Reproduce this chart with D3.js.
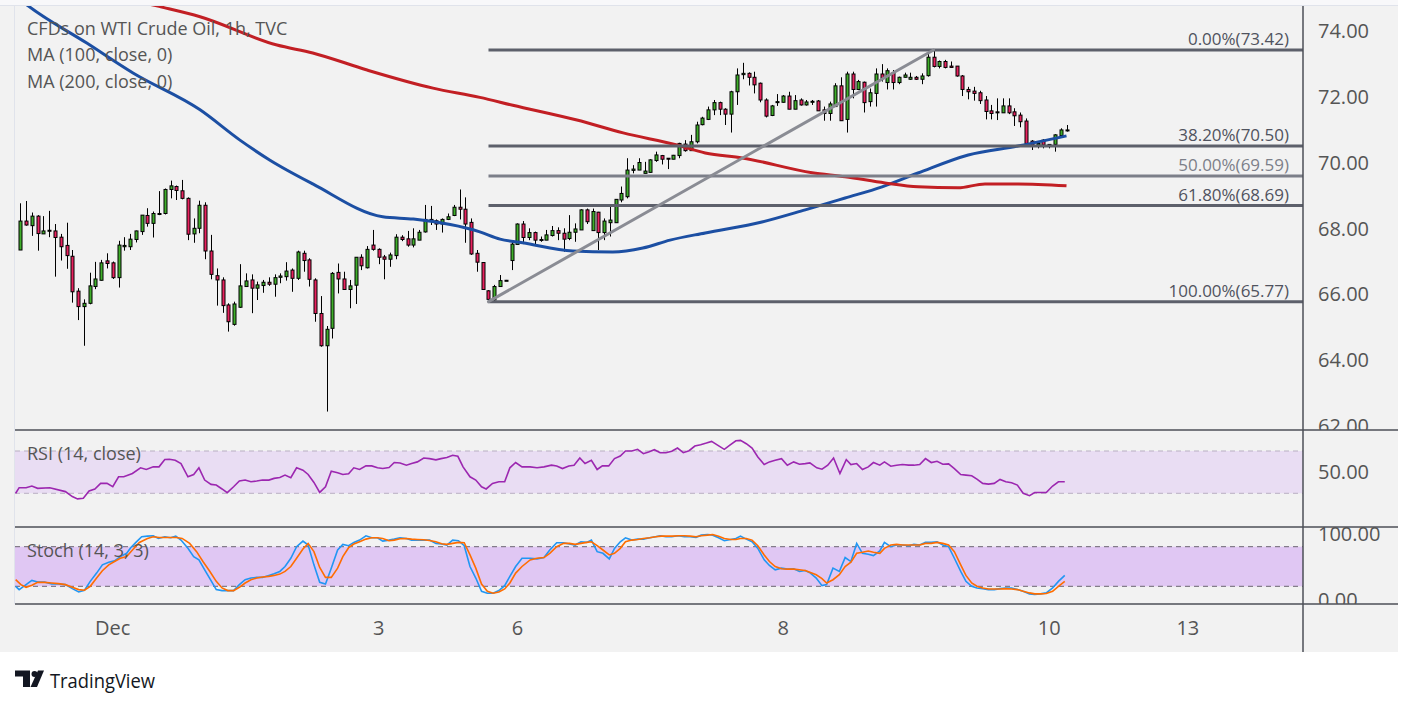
<!DOCTYPE html>
<html>
<head>
<meta charset="utf-8">
<script src="https://cdn.jsdelivr.net/npm/d3@7"></script>
<style>
  html, body { margin: 0; padding: 0; background: #fff; }
  svg { display: block; font-family: "Open Sans", sans-serif; }
</style>
</head>
<body>
<svg id="chart" width="1413" height="705"></svg>
<script>
// WTI 1h candles, index 0 = first visible bar. [open, high, low, close]
const CANDLES = [
  [67.34,68.76,67.34,68.22],[68.22,68.83,68.08,68.10],[68.08,68.48,67.77,68.37],[68.37,68.40,67.32,67.84],
  [67.83,68.37,67.83,67.92],[67.91,68.53,67.73,67.94],[67.92,68.13,66.53,67.72],[67.73,67.83,67.02,67.44],
  [67.48,68.17,66.77,67.17],[67.15,67.34,65.74,66.07],[66.09,66.18,65.21,65.62],[65.62,65.84,64.43,65.72],
  [65.72,66.65,65.69,66.25],[66.23,66.98,66.15,66.46],[66.42,67.04,66.41,66.95],[67.01,67.24,66.78,66.93],
  [66.95,66.99,66.46,66.50],[66.50,67.62,66.20,67.49],[67.44,67.73,67.32,67.48],[67.44,67.83,67.34,67.67],
  [67.66,67.93,67.57,67.92],[67.90,68.40,67.80,68.40],[68.39,68.61,68.05,68.15],[68.15,68.51,67.72,68.45],
  [68.42,69.13,68.40,68.45],[68.45,69.21,68.42,69.18],[69.18,69.45,68.91,69.29],[69.27,69.30,68.86,69.15],
  [69.14,69.47,68.88,68.91],[68.91,68.94,67.64,67.82],[67.83,68.30,67.56,68.00],[68.00,68.84,67.85,68.70],
  [68.70,68.79,67.06,67.31],[67.31,67.80,66.45,66.60],[66.56,66.78,65.65,66.43],[66.43,66.51,65.43,65.65],
  [65.67,65.72,64.86,65.16],[65.08,65.77,65.04,65.70],[65.60,66.91,65.58,66.25],[66.23,66.63,66.23,66.40],
  [66.43,66.60,65.42,66.18],[66.18,66.38,65.82,66.28],[66.26,66.43,66.04,66.36],[66.36,66.51,66.25,66.30],
  [66.30,66.60,65.92,66.50],[66.51,66.63,66.33,66.55],[66.53,66.97,66.41,66.70],[66.73,66.78,66.07,66.48],
  [66.48,67.32,66.43,67.28],[67.24,67.32,66.68,67.02],[67.04,67.09,66.23,66.45],[66.43,66.48,65.16,65.41],
  [65.41,65.94,64.40,64.43],[64.43,65.03,62.43,64.93],[64.96,66.67,64.65,66.63],[66.66,66.93,66.02,66.46],
  [66.46,66.68,66.13,66.14],[66.14,66.43,65.57,66.25],[66.27,67.12,65.70,67.12],[67.12,67.21,66.73,66.86],
  [66.80,67.46,66.78,67.36],[67.49,67.95,67.32,67.36],[67.36,67.39,66.91,67.12],[67.13,67.19,66.45,67.06],
  [67.06,67.26,66.83,67.19],[67.17,67.82,67.06,67.73],[67.73,67.79,67.61,67.66],[67.68,67.92,67.44,67.49],
  [67.49,68.00,67.42,67.68],[67.64,67.95,67.64,67.88],[67.89,68.71,67.87,68.27],[68.27,68.68,68.10,68.22],
  [68.23,68.27,67.95,68.13],[68.13,68.30,67.87,68.27],[68.27,68.45,68.25,68.35],[68.39,68.71,68.37,68.64],
  [68.64,69.18,68.27,68.58],[68.58,68.94,67.56,68.13],[68.18,68.30,67.19,67.22],[67.24,67.34,66.68,66.97],
  [66.96,66.96,66.13,66.14],[66.10,66.12,65.77,65.84],[65.82,66.28,65.78,66.23],[66.23,66.58,66.23,66.41],
  [66.41,66.43,66.40,66.42],[67.02,67.64,66.73,67.52],[67.51,68.15,67.51,68.13],[68.13,68.22,67.52,67.72],
  [67.72,68.00,67.64,67.87],[67.87,67.90,67.52,67.64],[67.64,67.75,67.59,67.66],[67.64,67.95,67.64,67.80],
  [67.78,68.07,67.75,67.93],[67.93,68.03,67.64,67.85],[67.85,68.00,67.29,67.67],[67.69,68.40,67.64,67.88],
  [67.88,68.15,67.59,67.98],[67.95,68.58,67.95,68.56],[68.56,68.60,68.13,68.20],[67.93,68.60,67.93,68.51],
  [68.49,68.50,67.34,67.87],[67.87,68.30,67.64,68.22],[68.17,68.66,67.75,68.25],[68.17,68.88,68.17,68.88],
  [68.86,69.27,68.79,69.06],[68.96,70.13,68.91,69.77],[69.76,69.92,69.67,69.80],[69.77,70.13,69.77,70.00],
  [69.67,70.02,69.67,69.74],[69.70,70.10,69.69,70.08],[70.06,70.33,70.02,70.23],[70.21,70.23,69.94,70.10],
  [70.13,70.13,69.80,70.11],[70.10,70.23,70.10,70.22],[70.21,70.60,70.13,70.58],[70.56,70.68,70.33,70.36],
  [70.36,70.84,70.35,70.63],[70.63,71.24,70.58,71.14],[71.15,71.39,71.13,71.35],[71.31,71.70,71.29,71.60],
  [71.60,71.90,71.44,71.82],[71.82,71.85,71.44,71.62],[71.62,71.65,71.14,71.47],[71.47,72.18,70.91,72.15],
  [72.15,72.86,71.75,72.66],[72.67,73.03,72.53,72.71],[72.71,72.74,72.34,72.59],[72.59,72.76,72.10,72.36],
  [72.41,72.43,71.83,71.90],[71.90,71.95,71.37,71.41],[71.43,71.75,71.41,71.72],[71.83,72.08,71.72,71.85],
  [71.83,72.05,71.82,72.02],[72.02,72.15,71.62,71.62],[71.62,72.05,71.62,71.88],[71.90,71.95,71.73,71.75],
  [71.75,71.90,71.73,71.84],[71.83,71.90,71.75,71.86],[71.87,71.90,71.57,71.57],[71.60,71.70,71.27,71.49],
  [71.49,71.85,71.27,71.78],[71.70,72.41,71.70,72.33],[72.33,72.59,71.27,71.27],[71.31,72.76,70.91,72.69],
  [72.69,72.76,71.95,72.22],[72.22,72.51,72.20,72.46],[72.44,72.46,71.52,71.82],[71.85,72.25,71.70,72.12],
  [72.10,72.86,71.70,72.69],[72.69,72.99,72.46,72.56],[72.43,72.86,72.22,72.79],[72.73,72.81,72.22,72.43],
  [72.43,72.61,72.38,72.59],[72.59,72.73,72.58,72.66],[72.53,72.73,72.51,72.59],[72.59,72.63,72.51,72.53],
  [72.53,72.71,72.38,72.63],[72.64,73.32,72.61,73.20],[73.20,73.42,72.89,72.92],[72.92,73.10,72.86,73.07],
  [73.07,73.12,72.86,72.89],[72.93,73.07,72.88,72.89],[72.93,72.93,72.61,72.63],[72.63,72.66,72.02,72.22],
  [72.22,72.30,71.92,72.15],[72.17,72.30,71.88,72.10],[72.12,72.18,71.78,71.88],[71.90,72.02,71.31,71.55],
  [71.57,71.75,71.31,71.49],[71.54,71.95,71.29,71.51],[71.51,71.95,71.51,71.72],[71.72,71.95,71.47,71.51],
  [71.54,71.65,71.11,71.42],[71.44,71.52,71.07,71.24],[71.26,71.34,70.56,70.58],[70.65,70.68,70.38,70.53],
  [70.53,70.60,70.43,70.58],[70.68,70.71,70.43,70.53],[70.55,70.56,70.43,70.54],[70.55,70.86,70.33,70.84],
  [70.82,71.04,70.79,70.99],[70.97,71.14,70.94,70.99]
];

// moving averages: [bar index, price]
const MA100 = [[0,74.95],[1.3,74.77],[11.5,73.63],[19.5,72.72],[31.1,71.60],[38,70.68],[43.2,70.07],
  [50.6,69.35],[62.7,68.35],[68,68.28],[79.5,67.89],[83,67.67],[86.9,67.56],[95.6,67.31],[102.5,67.28],
  [107.7,67.40],[112.4,67.64],[118.5,67.86],[128.3,68.19],[135.8,68.56],[142.7,68.92],[149.1,69.26],
  [155.3,69.68],[164,70.23],[172.6,70.50],[181,70.81]];
const MA200 = [[13,75.2],[23.6,74.76],[31.1,74.43],[44.4,73.57],[50.6,73.33],[60,72.81],[71.4,72.26],
  [79.5,71.98],[85.2,71.74],[96.3,71.29],[104.3,70.90],[113.6,70.53],[118.5,70.29],[124.9,70.14],
  [137,69.69],[142.7,69.57],[149.6,69.38],[155.3,69.26],[162.2,69.23],[166.9,69.35],[172.6,69.35],[181,69.29]];

// RSI(14) [bar index, value]
const RSI = [[-0.8,30.0],[-0.2,35.3],[1.0,35.3],[2.0,36.9],[3.0,34.7],[5.1,35.3],[7.8,31.6],[9.0,26.9],
  [9.9,24.7],[10.9,25.3],[11.9,32.2],[12.9,34.1],[13.9,39.4],[15.0,39.4],[16.0,36.2],[17.0,45.6],[17.9,45.6],
  [19.4,48.7],[20.8,54.1],[21.8,52.5],[23.0,55.0],[24.0,55.0],[25.0,61.9],[25.8,62.2],[26.8,61.2],[27.8,58.1],
  [29.0,45.6],[30.0,47.8],[30.9,54.1],[31.9,42.5],[33.0,38.4],[33.9,37.8],[34.9,34.1],[35.8,30.6],[36.9,36.2],
  [37.9,41.6],[38.9,42.5],[39.9,40.9],[40.9,41.6],[41.9,42.5],[43.0,42.5],[43.9,44.1],[44.9,45.0],[45.8,47.2],
  [46.8,44.7],[47.8,54.1],[48.9,51.9],[49.8,47.8],[50.8,40.3],[51.8,30.9],[52.8,36.2],[53.8,50.9],[54.9,49.4],
  [55.8,47.8],[56.8,48.4],[57.7,54.1],[58.7,52.5],[59.8,55.9],[60.8,55.9],[61.8,54.1],[62.7,53.4],[63.8,54.4],
  [64.7,59.1],[65.7,58.7],[66.8,56.6],[67.7,58.1],[68.7,59.7],[69.8,63.4],[70.8,62.8],[71.9,61.6],[72.8,62.8],
  [73.8,63.8],[74.8,66.0],[75.7,65.0],[76.6,55.0],[77.8,45.6],[78.8,42.5],[79.8,36.2],[80.6,34.1],[81.7,39.4],
  [82.8,40.9],[83.8,40.9],[84.7,54.1],[85.7,59.1],[86.8,55.0],[88.2,55.0],[89.4,54.1],[90.6,55.0],[91.9,56.6],
  [92.8,55.9],[93.8,53.4],[94.9,55.9],[95.8,56.6],[96.8,63.4],[97.7,58.1],[98.8,61.2],[99.8,52.5],[100.7,55.9],
  [101.8,55.9],[102.8,62.8],[103.8,65.3],[104.7,70.0],[105.8,70.0],[106.8,71.6],[107.8,67.5],[108.7,69.1],
  [109.7,71.2],[110.7,68.4],[111.7,68.4],[112.7,69.7],[113.7,72.8],[114.7,68.4],[115.7,70.3],[116.7,74.7],
  [117.7,75.9],[118.7,77.5],[119.6,79.1],[120.7,75.3],[121.8,71.6],[122.7,75.3],[123.8,79.7],[124.6,80.0],
  [125.6,76.9],[126.6,72.8],[127.6,64.4],[128.7,57.2],[129.6,59.7],[130.6,61.2],[131.7,62.8],[132.7,56.6],
  [133.8,59.7],[134.8,57.5],[135.8,58.1],[136.6,58.7],[137.8,54.1],[138.7,52.8],[139.7,56.6],[140.7,63.4],
  [141.8,48.7],[142.9,61.9],[143.7,57.2],[144.7,58.1],[145.7,52.5],[146.7,55.0],[147.6,59.1],[148.7,56.6],
  [149.5,59.7],[150.6,55.6],[151.6,56.6],[152.6,57.2],[153.7,56.6],[154.6,56.6],[155.6,57.2],[156.6,62.8],
  [157.6,59.1],[158.6,60.3],[159.6,57.5],[160.6,57.8],[161.6,53.4],[162.7,47.8],[163.6,47.2],[164.6,46.6],
  [165.5,43.4],[166.5,39.4],[167.5,38.7],[168.5,39.4],[169.5,43.1],[170.5,40.9],[171.5,40.0],[172.5,37.8],
  [173.5,30.0],[174.6,27.8],[175.5,30.7],[176.5,30.7],[177.5,30.7],[178.6,36.9],[179.6,40.9],[180.7,40.9]];

// Stoch(14,3,3) %K and %D [bar index, value]
const STOCH_K = [[-0.8,20],[-0.2,15],[1.0,22.5],[2.0,29],[3.0,26.5],[4.2,26.5],[5.4,23.5],[6.6,23.5],[7.8,22.5],
  [9.0,16.5],[10.1,11.5],[11.1,14],[12.1,27.5],[13.2,40],[14.2,52.5],[15.3,56.5],[16.3,58.5],[17.3,65],[18.4,70],
  [19.1,78.5],[20.0,86.5],[21.0,95],[22.0,96],[23.0,96.5],[23.9,92.5],[25.0,95],[26.0,93.5],[26.9,96],[27.8,90],
  [29.0,77.5],[30.0,65],[30.9,60],[31.9,45],[33.0,28.5],[33.9,15],[34.9,13.5],[35.8,13.5],[36.9,13.5],[37.9,22.5],
  [38.9,30],[39.9,32.5],[40.9,33.5],[41.9,33.5],[43.0,36.5],[43.9,39],[44.9,42.5],[45.8,50],[46.8,62.5],[47.8,80],
  [48.9,88.5],[49.8,82.5],[50.8,52.5],[51.8,26],[52.8,23.5],[53.8,47.5],[54.9,75],[55.8,83.5],[56.8,81.5],
  [57.7,86.5],[58.7,90],[59.8,96.5],[60.8,93.5],[61.8,93.5],[62.7,88.5],[63.8,90],[64.7,91.5],[65.7,93.5],
  [66.8,92.5],[67.7,90],[68.7,90],[69.8,90],[70.8,90],[71.9,85],[72.9,84],[73.8,82.5],[74.8,90],[75.8,89],
  [76.8,81.5],[77.8,50],[78.8,32.5],[79.8,12.5],[80.8,9.5],[81.8,9.5],[82.8,13.5],[83.8,21],[84.7,35],[85.7,50],
  [86.8,62.5],[88.2,62.5],[89.4,61.5],[90.6,63.5],[91.6,75],[92.8,86],[94.0,86],[95.0,84],[96.0,82.5],[97.0,87.5],
  [98.0,86.5],[98.8,90],[99.8,72.5],[100.8,70],[101.9,61.5],[102.8,77.5],[103.8,87.5],[104.7,93.5],[105.8,90],
  [106.8,91.5],[107.8,91.5],[108.9,93.5],[109.9,95],[110.7,96.5],[111.7,95],[112.7,95],[113.8,96.5],[114.9,95],
  [115.9,95],[116.9,94],[117.8,97.5],[118.9,98.5],[119.8,97.5],[120.8,93.5],[121.8,89],[122.9,91],[123.8,92.5],
  [124.6,96],[125.6,91.5],[126.6,87.5],[127.6,77.5],[128.7,60],[129.6,51.5],[130.6,45],[131.7,47.5],[132.7,46],
  [133.8,46.5],[134.8,42.5],[135.8,44],[136.7,40],[137.7,32.5],[138.7,21],[139.5,22.5],[140.6,47.5],[141.7,42.5],
  [142.7,63.5],[143.7,57.5],[144.7,85],[145.7,70],[146.7,68.5],[147.6,66.5],[148.7,73.5],[149.5,86.5],[150.6,80],
  [151.6,82.5],[152.6,82.5],[153.7,81.5],[154.6,83.5],[155.6,82.5],[156.6,86.5],[157.6,86.5],[158.6,87.5],
  [159.6,82.5],[160.6,80],[161.6,62.5],[162.7,42.5],[163.6,27.5],[164.6,20],[165.5,17.5],[166.5,16.5],[167.5,15],
  [168.5,15],[169.5,16.5],[170.5,17.5],[171.5,17.5],[172.5,15],[173.5,12.5],[174.6,8.5],[175.5,7.5],[176.5,8.5],
  [177.5,10],[178.6,17.5],[179.6,27.5],[180.7,36.5]];
const STOCH_D = [[-0.8,30],[0.1,22.5],[1.0,18.5],[2.0,21.5],[3.0,26],[4.2,26],[5.4,25],[6.6,24],[7.8,22.5],
  [9.0,18.5],[10.1,15],[11.1,14],[12.1,20],[13.2,32.5],[14.2,43.5],[15.3,52.5],[16.3,57.5],[17.3,62.5],[18.4,65],
  [19.4,75],[20.6,86.5],[22.0,92.5],[23.0,95],[24.0,94],[25.0,94],[26.0,94],[27.0,94],[28.0,92.5],[29.3,85],
  [30.5,72.5],[31.6,57.5],[32.8,42.5],[33.9,27.5],[34.9,17.5],[35.9,13.5],[36.9,13.5],[37.9,18.5],[38.9,25],
  [39.9,30],[40.9,32.5],[41.9,34],[43.0,35],[43.9,36.5],[44.9,38.5],[45.8,42.5],[46.8,50],[47.8,62.5],[48.9,76.5],
  [49.8,85],[50.8,72.5],[51.8,48.5],[52.8,33.5],[53.8,33.5],[54.9,47.5],[55.8,65],[56.8,78.5],[57.7,84],
  [58.7,87.5],[59.8,91.5],[60.8,93.5],[61.8,93.5],[62.7,92.5],[63.8,89],[64.7,90],[65.7,92],[66.8,92.5],
  [67.7,91.5],[68.7,91],[69.8,90.5],[70.8,89.5],[71.9,87.5],[72.9,84.5],[73.8,83.5],[74.8,85],[75.8,86.5],
  [76.8,86],[77.8,67.5],[78.8,47.5],[79.8,23.5],[80.8,12.5],[81.8,9.5],[82.8,11.5],[83.8,16],[84.7,25],[85.7,40],
  [86.8,50],[88.2,60],[89.4,62.5],[90.6,63.5],[91.6,70],[92.8,80],[94.0,85],[95.0,85],[96.0,83.5],[97.0,85],
  [98.0,86.5],[98.8,87.5],[99.8,81.5],[100.8,75],[101.9,67.5],[102.8,70],[103.8,77.5],[104.7,87.5],[105.8,90],
  [106.8,91],[107.8,92.5],[108.9,93.5],[109.9,95],[110.9,96],[111.9,96],[112.9,96],[113.9,96.5],[114.9,96.5],
  [115.9,96],[116.9,95],[117.8,96.5],[118.9,97.5],[119.8,98.5],[120.8,96],[121.8,92.5],[122.9,91],[123.8,91],
  [124.6,92.5],[125.6,92.5],[126.6,90],[127.6,81.5],[128.7,67.5],[129.6,57.5],[130.6,50],[131.7,46.5],[132.7,46],
  [133.8,46],[134.8,45],[135.8,44],[136.7,41],[137.7,37.5],[138.7,31.5],[139.5,25],[140.6,30],[141.7,37.5],
  [142.7,50],[143.7,56.5],[144.7,70],[145.7,71.5],[146.7,73.5],[147.6,71.5],[148.7,70],[149.5,77.5],[150.6,82.5],
  [151.6,83.5],[152.6,82.5],[153.7,82.5],[154.6,82.5],[155.6,82.5],[156.6,85],[157.6,85],[158.6,86.5],[159.6,85],
  [160.6,82.5],[161.6,72.5],[162.7,52.5],[163.6,36.5],[164.6,25],[165.5,20],[166.5,17.5],[167.5,16],[168.5,16],
  [169.5,16],[170.5,16.5],[171.5,16],[172.5,15],[173.5,12.5],[174.6,10],[175.5,8.5],[176.5,8.5],[177.5,9],
  [178.6,12.5],[179.6,20],[180.7,27.5]];

// Fibonacci retracement from the 65.77 low (bar 81) to the 73.42 high (bar 158)
const FIB_ANCHORS = [[81, 65.77], [158, 73.42]];
const FIB_RATIOS = ["0.00%", "38.20%", "50.00%", "61.80%", "100.00%"];
const FIB_PRICES = [73.42, 70.50, 69.59, 68.69, 65.77];

const PRICE_TICKS = [62, 64, 66, 68, 70, 72, 74];
const RSI_TICKS = [50];
const RSI_BAND = [30, 70];
const STOCH_TICKS = [0, 100];
const STOCH_BAND = [20, 80];
const TIME_TICKS = [[16, "Dec"], [62, "3"], [86, "6"], [132, "8"], [178, "10"], [202, "13"]];
const LEGEND = ["CFDs on WTI Crude Oil, 1h, TVC", "MA (100, close, 0)", "MA (200, close, 0)"];

// ---------- layout ----------
const L = 15, R = 1303, AXR = 1398;
const MAIN = [6, 430], RP = [430, 527], SP = [527, 604], TB = 652;
const TXT = "#555555", GRID = "#4d4f57";

const svg = d3.select("#chart");
const defs = svg.append("defs");
function clip(id, x, y, w, h) {
  defs.append("clipPath").attr("id", id).append("rect").attr("x", x).attr("y", y).attr("width", w).attr("height", h);
  return `url(#${id})`;
}
const cMain = clip("cMain", L, MAIN[0], R - L, MAIN[1] - MAIN[0]);
const cRsi = clip("cRsi", L, RP[0], R - L, RP[1] - RP[0]);
const cSto = clip("cSto", L, SP[0], R - L, SP[1] - SP[0]);
const cAxMain = clip("cAxMain", R, MAIN[0], AXR - R, MAIN[1] - MAIN[0]);
const cAxRsi = clip("cAxRsi", R, RP[0], AXR - R, RP[1] - RP[0]);
const cAxSto = clip("cAxSto", R, SP[0], AXR - R, SP[1] - SP[0]);

const x = d3.scaleLinear().domain([0, 181]).range([20.3, 1066.5]);
const y = d3.scaleLinear().domain([62, 74]).range([425.7, 30.9]);
const yR = d3.scaleLinear().domain([30, 70]).range([493.3, 451]);
const yS = d3.scaleLinear().domain([0, 100]).range([599.5, 533.5]);

// backgrounds
svg.append("rect").attr("x", 0).attr("y", 0).attr("width", AXR).attr("height", TB).attr("fill", "#f2f2f2");
svg.append("rect").attr("x", 0).attr("y", 0).attr("width", AXR).attr("height", MAIN[0]).attr("fill", "#f8f8fa");
svg.append("line").attr("x1", 0).attr("x2", AXR).attr("y1", MAIN[0] - 0.5).attr("y2", MAIN[0] - 0.5)
  .attr("stroke", "#e0e3eb");
svg.append("line").attr("x1", L - 0.5).attr("x2", L - 0.5).attr("y1", MAIN[0]).attr("y2", SP[1])
  .attr("stroke", "#e0e3eb");

// indicator bands
function band(scale, lv, fill, dash, cp) {
  const g = svg.append("g").attr("clip-path", cp);
  g.append("rect").attr("x", L).attr("width", R - L)
    .attr("y", scale(lv[1])).attr("height", scale(lv[0]) - scale(lv[1])).attr("fill", fill);
  lv.forEach(v => g.append("line").attr("x1", L).attr("x2", R).attr("y1", scale(v)).attr("y2", scale(v))
    .attr("stroke", dash).attr("stroke-dasharray", "5 4").attr("stroke-width", 1));
}
band(yR, RSI_BAND, "#e9ddf3", "#b9b0c2", cRsi);
band(yS, STOCH_BAND, "#e0c7f3", "#6a6470", cSto);

// candles
const gc = svg.append("g").attr("clip-path", cMain);
const bars = gc.selectAll("g.c").data(CANDLES).join("g").attr("class", "c");
bars.append("line")
  .attr("x1", (d, i) => Math.round(x(i)) + 0.5).attr("x2", (d, i) => Math.round(x(i)) + 0.5)
  .attr("y1", d => y(d[1])).attr("y2", d => y(d[2])).attr("stroke", "#000").attr("stroke-width", 1);
bars.append("rect")
  .attr("x", (d, i) => Math.round(x(i)) - 1)
  .attr("width", 3)
  .attr("y", d => y(Math.max(d[0], d[3])))
  .attr("height", d => Math.max(1, Math.abs(y(d[0]) - y(d[3]))))
  .attr("fill", d => d[3] >= d[0] ? "#3fae2a" : "#e8225f")
  .attr("stroke", "#000").attr("stroke-width", 1);

// moving averages
const maLine = d3.line().x(d => x(d[0])).y(d => y(d[1])).curve(d3.curveMonotoneX);
gc.append("path").datum(MA100).attr("d", maLine).attr("fill", "none")
  .attr("stroke", "#1c4fa3").attr("stroke-width", 3);
gc.append("path").datum(MA200).attr("d", maLine).attr("fill", "none")
  .attr("stroke", "#c21f24").attr("stroke-width", 3);

// fib retracement + trend line
const fibX0 = x(FIB_ANCHORS[0][0]);
FIB_PRICES.forEach((p, k) => {
  const col = FIB_RATIOS[k] === "50.00%" ? "#7c7f89" : "#5d606b";
  gc.append("line").attr("x1", fibX0).attr("x2", R).attr("y1", y(p)).attr("y2", y(p))
    .attr("stroke", col).attr("stroke-width", 3);
  gc.append("text").attr("x", 1289).attr("y", y(p) - 5).attr("text-anchor", "end")
    .attr("font-size", 17).attr("fill", FIB_RATIOS[k] === "50.00%" ? "#7c7f89" : "#50535e")
    .text(`${FIB_RATIOS[k]}(${p.toFixed(2)})`);
});
gc.append("line")
  .attr("x1", x(FIB_ANCHORS[0][0])).attr("y1", y(FIB_ANCHORS[0][1]))
  .attr("x2", x(FIB_ANCHORS[1][0])).attr("y2", y(FIB_ANCHORS[1][1]))
  .attr("stroke", "#8a8c94").attr("stroke-width", 3).attr("stroke-linecap", "round");

// RSI
const rsiLine = d3.line().x(d => x(d[0])).y(d => yR(d[1]));
svg.append("g").attr("clip-path", cRsi).append("path").datum(RSI).attr("d", rsiLine)
  .attr("fill", "none").attr("stroke", "#9c27b0").attr("stroke-width", 1.6);

// Stoch
const stoLine = d3.line().x(d => x(d[0])).y(d => yS(d[1]));
const gs = svg.append("g").attr("clip-path", cSto);
gs.append("path").datum(STOCH_K).attr("d", stoLine).attr("fill", "none")
  .attr("stroke", "#2196f3").attr("stroke-width", 1.6);
gs.append("path").datum(STOCH_D).attr("d", stoLine).attr("fill", "none")
  .attr("stroke", "#ff6d00").attr("stroke-width", 1.6);

// pane separators and price axis border
[MAIN[1], RP[1], SP[1]].forEach(v => svg.append("line").attr("x1", L).attr("x2", AXR)
  .attr("y1", v).attr("y2", v).attr("stroke", GRID).attr("stroke-width", 1.5));
svg.append("line").attr("x1", R).attr("x2", R).attr("y1", MAIN[0]).attr("y2", TB)
  .attr("stroke", GRID).attr("stroke-width", 1.5);

// axis labels
function axisLabels(ticks, scale, cp) {
  svg.append("g").attr("clip-path", cp).selectAll("text").data(ticks).join("text")
    .attr("x", 1318).attr("y", d => scale(d)).attr("dy", "0.36em")
    .attr("font-size", 20).attr("fill", TXT).text(d => d.toFixed(2));
}
axisLabels(PRICE_TICKS, y, cAxMain);
axisLabels(RSI_TICKS, yR, cAxRsi);
axisLabels(STOCH_TICKS, yS, cAxSto);

svg.append("g").selectAll("text").data(TIME_TICKS).join("text")
  .attr("x", d => x(d[0])).attr("y", 635).attr("text-anchor", "middle")
  .attr("font-size", 20).attr("fill", TXT).text(d => d[1]);

// legends
svg.append("g").selectAll("text").data(LEGEND).join("text")
  .attr("x", 27).attr("y", (d, i) => 35 + i * 26.3).attr("font-size", 18).attr("fill", TXT).text(d => d);
svg.append("text").attr("x", 27).attr("y", 460).attr("font-size", 18).attr("fill", TXT).text("RSI (14, close)");
svg.append("text").attr("x", 27).attr("y", 557).attr("font-size", 18).attr("fill", TXT).text("Stoch (14, 3, 3)");

// TradingView mark
const logo = svg.append("g").attr("fill", "#131722");
logo.append("path").attr("d", "M15,670.5 h15 v16.5 h-7 v-10.5 h-8 z");
logo.append("circle").attr("cx", 34.5).attr("cy", 674).attr("r", 3);
logo.append("path").attr("d", "M38,670.5 h6 l-7,16.5 h-6.5 z");
svg.append("text").attr("x", 50).attr("y", 688).attr("font-size", 20).attr("font-weight", 500)
  .attr("textLength", 105).attr("lengthAdjust", "spacingAndGlyphs")
  .attr("fill", "#131722").text("TradingView");
</script>
</body>
</html>
